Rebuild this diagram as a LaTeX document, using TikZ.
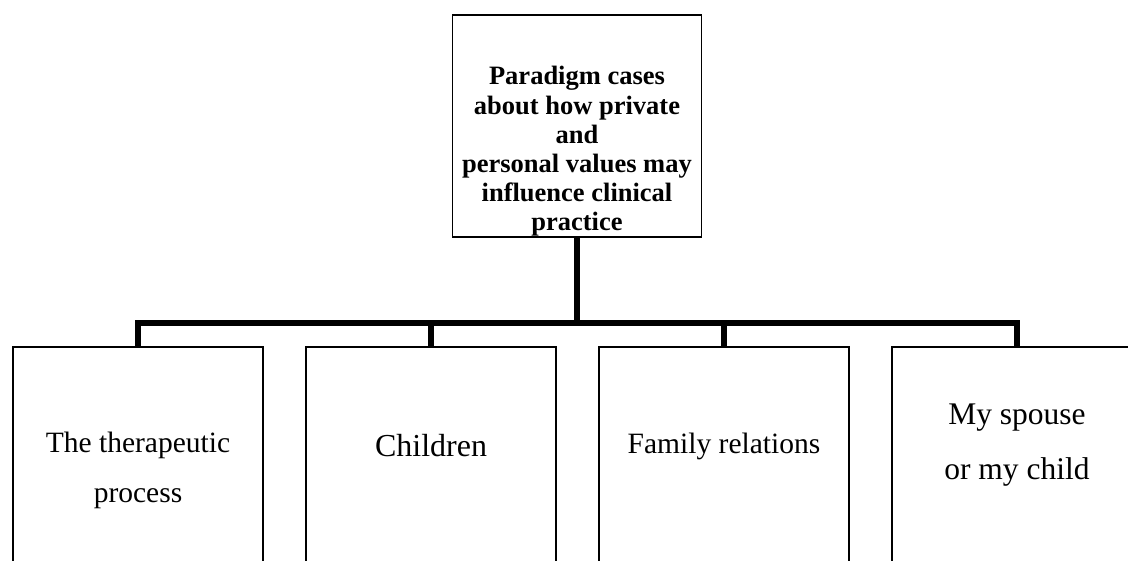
\documentclass[tikz,border=0pt]{standalone}
\usepackage{fontspec}
\setmainfont{Liberation Serif}
\usetikzlibrary{positioning}

\begin{document}
\begin{tikzpicture}[x=1pt,y=1pt,align=center,node distance=293pt]
\tikzstyle{topbox}=[draw,line width=1.6pt,minimum width=249pt,minimum height=222pt]
\tikzstyle{case}=[draw,line width=1.6pt,minimum width=250pt,minimum height=250pt]
\tikzstyle{casetext}=[anchor=base,inner sep=0pt]
\tikzstyle{bus}=[line width=5.5pt]

\useasboundingbox (0,0) rectangle (1128,560);

\node[topbox] (top) at (577,434) {};
\node[casetext,font=\fontsize{26.5}{29.2}\selectfont\bfseries] (topl) at (577,329)
  {Paradigm cases\\about how private\\and\\personal values may\\influence clinical\\practice};

\node[case] (b1) at (138,88) {};
\node[case] (b2) [right of = b1] {};
\node[case] (b3) [right of = b2] {};
\node[case] (b4) [right of = b3] {};

% base anchor sits on the last line
\node[casetext,font=\fontsize{29.5}{50}\selectfont,yshift=-156pt] (t1) at (b1.north) {The therapeutic\\process};
\node[casetext,font=\fontsize{32}{38}\selectfont,yshift=-110pt] (t2) at (b2.north) {Children};
\node[casetext,font=\fontsize{29.5}{35}\selectfont,yshift=-107pt] (t3) at (b3.north) {Family relations};
\node[casetext,font=\fontsize{31.5}{55}\selectfont,yshift=-133pt] (t4) at (b4.north) {My spouse\\or my child};

\coordinate (hub) at (577,237);
\draw[bus] (top.south) -- (hub);
\draw[bus] (b1.north) |- (hub) -| (b4.north);
\foreach \b in {b2,b3}
  \draw[bus] (\b.north) -- (\b.north |- hub);
\end{tikzpicture}
\end{document}
